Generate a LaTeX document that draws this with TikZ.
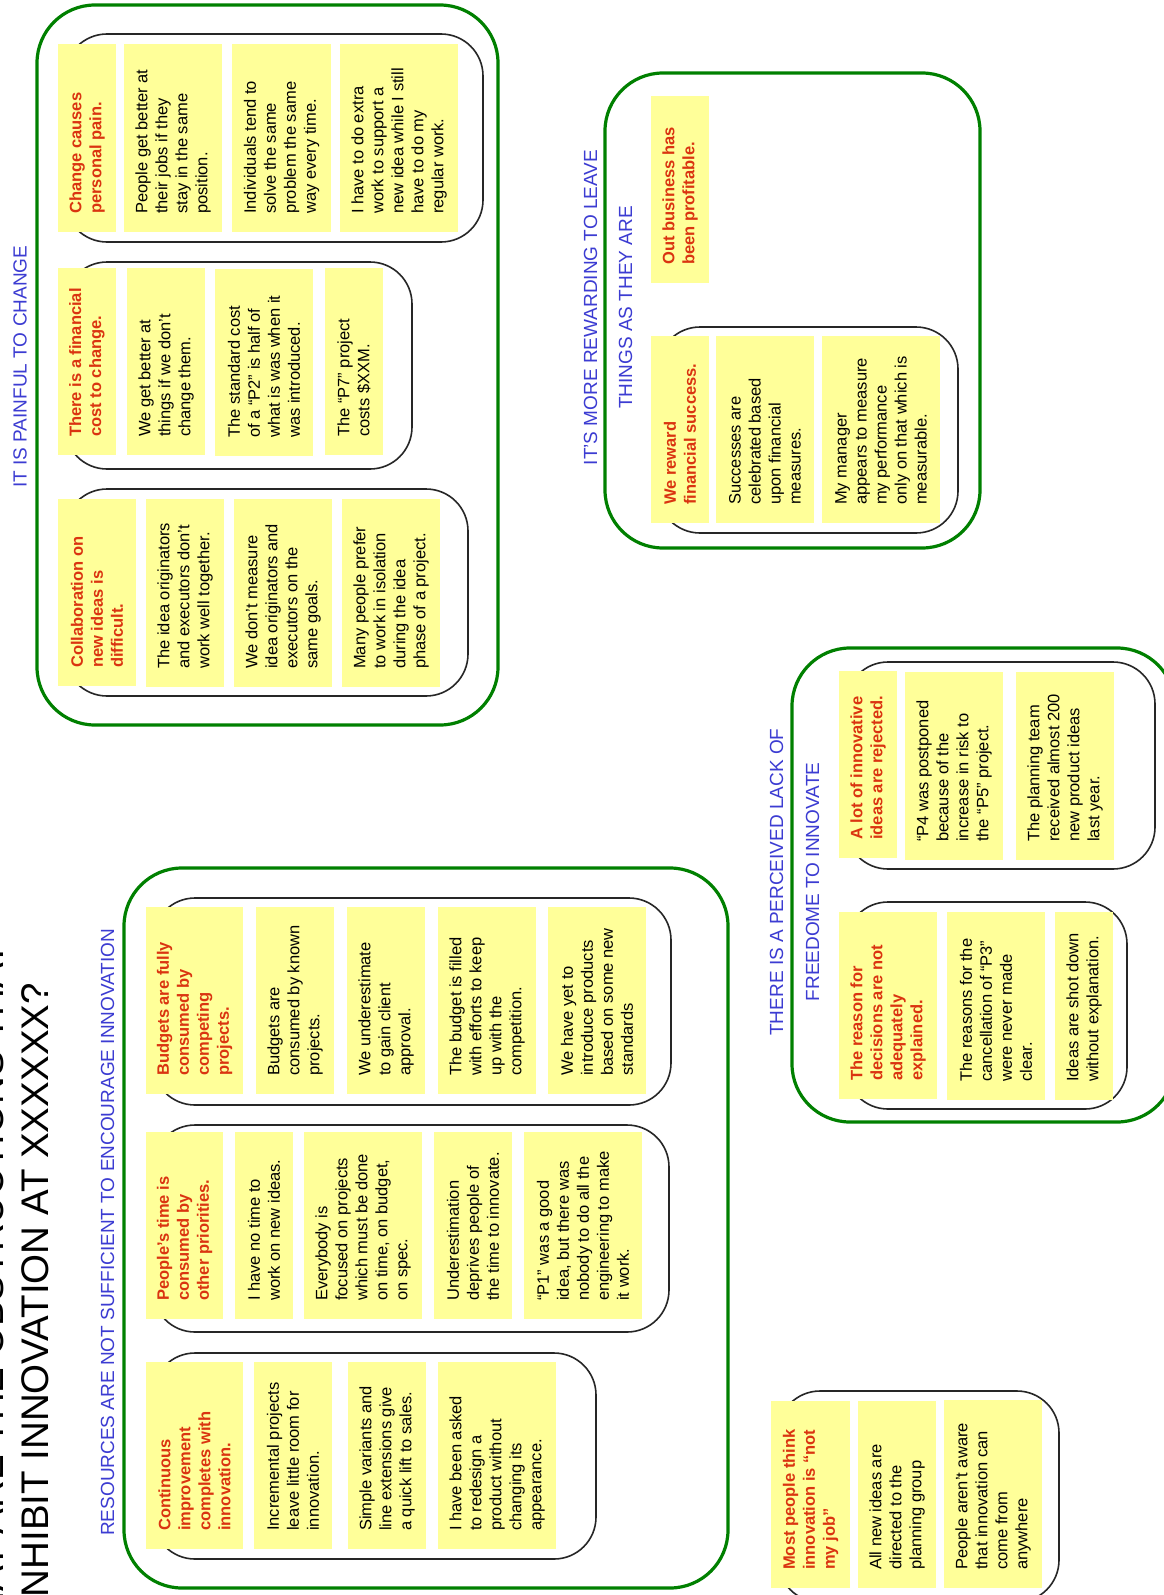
\documentclass[tikz,border=0pt]{standalone}
\usepackage{fontspec}
\setmainfont{Liberation Sans}
\definecolor{notefill}{RGB}{255,255,153}
\definecolor{notered}{RGB}{218,52,16}
\definecolor{headblue}{RGB}{60,60,210}
\definecolor{groupgreen}{RGB}{0,128,0}

% rectangular frame node from corner coordinates: name, x1, y1, x2, y2, style
\newcommand\grp[6]{%
  \pgfmathsetmacro\gW{#4-#2}\pgfmathsetmacro\gH{#5-#3}%
  \pgfmathsetmacro\gX{(#2+#4)/2}\pgfmathsetmacro\gY{(#3+#5)/2}%
  \node[#6, minimum width=\gW pt, minimum height=\gH pt] (#1) at (\gX,\gY) {};}

% sticky note: name, x1, y1, x2, y2, text style, text
\newcommand\stick[7]{%
  \pgfmathsetmacro\nbW{#4-#2}\pgfmathsetmacro\nbH{#5-#3}%
  \pgfmathsetmacro\nbX{(#2+#4)/2}\pgfmathsetmacro\nbY{(#3+#5)/2}%
  \node[notebg, minimum width=\nbW pt, minimum height=\nbH pt] (#1) at (\nbX,\nbY) {};
  \node[#6] (#1t) at ([yshift=18pt]#1.south) {#7};}

\begin{document}
\begin{tikzpicture}[x=1pt,y=-1pt,
  groupbox/.style={rectangle, draw=groupgreen, line width=3.2pt, rounded corners=58pt, inner sep=0pt, outer sep=0pt},
  innerbox/.style={rectangle, draw=black!85, line width=1.6pt, rounded corners=42pt, inner sep=0pt, outer sep=0pt},
  notebg/.style={rectangle, fill=notefill, draw=none, inner sep=0pt, outer sep=0pt},
  obsnote/.style={rotate=90, anchor=west, align=left, inner sep=0pt, font=\fontsize{16.5}{20}\selectfont},
  causenote/.style={obsnote, text=notered, font=\fontsize{16.5}{20}\selectfont\bfseries},
  heading/.style={rotate=90, inner sep=0pt, text=headblue, font=\fontsize{19}{23}\selectfont},
  titletext/.style={rotate=90, inner sep=0pt, font=\fontsize{38.5}{46}\selectfont},
]
\useasboundingbox (0,0) rectangle (1164,1595);
\clip (0,0) rectangle (1164,1595);
\fill[white] (0,0) rectangle (1164,1595);

% title
\node[titletext, anchor=base] (title1) at (4,1299) {WHAT ARE THE OBSTRUCTIONS THAT};
\node[titletext, anchor=base east] (title2) at (48,983) {INHIBIT INNOVATION AT XXXXXX?};

% group frames
\grp{g1}{37}{5}{498}{725}{groupbox}
\grp{g2}{605}{73}{980}{548}{groupbox}
\grp{g3}{124}{868}{728}{1588}{groupbox}
\grp{g4}{792}{648}{1175}{1122}{groupbox}

% headings
\node[heading, anchor=base west] (h1) at (26.5,488) {IT IS PAINFUL TO CHANGE};
\node[heading, anchor=base] (h2a) at (597,307.5) {IT’S MORE REWARDING TO LEAVE};
\node[heading, anchor=base] (h2b) at (632,307.5) {THINGS AS THEY ARE};
\node[heading, anchor=base west] (h3) at (114,1536) {RESOURCES ARE NOT SUFFICIENT TO ENCOURAGE INNOVATION};
\node[heading, anchor=base] (h4a) at (783,882) {THERE IS A PERCEIVED LACK OF};
\node[heading, anchor=base] (h4b) at (819,882) {FREEDOME TO INNOVATE};

% inner frames
\grp{b1}{65}{34}{483}{242}{innerbox}
\grp{b2}{65}{262}{412}{469}{innerbox}
\grp{b3}{65}{489}{468}{696}{innerbox}
\grp{b5}{658}{327}{958}{533}{innerbox}
\grp{bA}{153}{898}{671}{1105}{innerbox}
\grp{bB}{153}{1125}{669}{1332}{innerbox}
\grp{bC}{153}{1353}{596}{1559}{innerbox}
\grp{bE}{846}{662}{1155}{869}{innerbox}
\grp{bF}{846}{902}{1127}{1109}{innerbox}
\grp{bG}{778}{1391}{1059}{1602}{innerbox}

% it is painful to change
\stick{n11}{58}{44}{116}{232}{causenote}{Change causes\\personal pain.}
\stick{n12}{124}{44}{222}{232}{obsnote}{People get better at\\their jobs if they\\stay in the same\\position.}
\stick{n13}{232}{44}{331}{232}{obsnote}{Individuals tend to\\solve the same\\problem the same\\way every time.}
\stick{n14}{340}{44}{458}{232}{obsnote}{I have to do extra\\work to support a\\new idea while I still\\have to do my\\regular work.}

\stick{n21}{58}{268}{116}{455}{causenote}{There is a financial\\cost to change.}
\stick{n22}{127}{268}{205}{455}{obsnote}{We get better at\\things if we don’t\\change them.}
\stick{n23}{215}{269}{313}{456}{obsnote}{The standard cost\\of a “P2” is half of\\what is was when it\\was introduced.}
\stick{n24}{325}{268}{383}{455}{obsnote}{The “P7” project\\costs \$XXM.}

\stick{n31}{58}{499}{136}{686}{causenote}{Collaboration on\\new ideas is\\difficult.}
\stick{n32}{146}{499}{224}{687}{obsnote}{The idea originators\\and executors don’t\\work well together.}
\stick{n33}{234}{499}{332}{687}{obsnote}{We don’t measure\\idea originators and\\executors on the\\same goals.}
\stick{n34}{342}{499}{440}{687}{obsnote}{Many people prefer\\to work in isolation\\during the idea\\phase of a project.}

% more rewarding to leave things as they are
\stick{n41}{651}{96}{709}{283}{causenote}{Out business has\\been profitable.}
\stick{n51}{651}{336}{709}{523}{causenote}{We reward\\financial success.}
\stick{n52}{716}{336}{814}{523}{obsnote}{Successes are\\celebrated based\\upon financial\\measures.}
\stick{n53}{822}{336}{940}{523}{obsnote}{My manager\\appears to measure\\my performance\\only on that which is\\measurable.}

% resources are not sufficient
\stick{a1}{146}{907}{243}{1094}{causenote}{Budgets are fully\\consumed by\\competing\\projects.}
\stick{a2}{256}{907}{334}{1094}{obsnote}{Budgets are\\consumed by known\\projects.}
\stick{a3}{347}{907}{425}{1094}{obsnote}{We underestimate\\to gain client\\approval.}
\stick{a4}{438}{907}{536}{1094}{obsnote}{The budget is filled\\with efforts to keep\\up with the\\competition.}
\stick{a5}{548}{907}{646}{1094}{obsnote}{We have yet to\\introduce products\\based on some new\\standards}

\stick{c1}{146}{1132}{223}{1319}{causenote}{People’s time is\\consumed by\\other priorities.}
\stick{c2}{235}{1132}{293}{1319}{obsnote}{I have no time to\\work on new ideas.}
\stick{c3}{304}{1132}{422}{1319}{obsnote}{Everybody is\\focused on projects\\which must be done\\on time, on budget,\\on spec.}
\stick{c4}{434}{1132}{512}{1319}{obsnote}{Underestimation\\deprives people of\\the time to innovate.}
\stick{c5}{524}{1132}{642}{1319}{obsnote}{“P1” was a good\\idea, but there was\\nobody to do all the\\engineering to make\\it work.}

\stick{d1}{146}{1362}{243}{1549}{causenote}{Continuous\\improvement\\completes with\\innovation.}
\stick{d2}{254}{1362}{332}{1549}{obsnote}{Incremental projects\\leave little room for\\innovation.}
\stick{d3}{348}{1362}{426}{1549}{obsnote}{Simple variants and\\line extensions give\\a quick lift to sales.}
\stick{d4}{438}{1362}{556}{1549}{obsnote}{I have been asked\\to redesign a\\product without\\changing its\\appearance.}

% lack of freedom to innovate
\stick{e1}{839}{671}{897}{858}{causenote}{A lot of innovative\\ideas are rejected.}
\stick{e2}{905}{672}{1003}{860}{obsnote}{“P4 was postponed\\because of the\\increase in risk to\\the “P5” project.}
\stick{e3}{1016}{672}{1114}{860}{obsnote}{The planning team\\received almost 200\\new product ideas\\last year.}

\stick{f1}{839}{912}{937}{1099}{causenote}{The reason for\\decisions are not\\adequately\\explained.}
\stick{f2}{947}{912}{1045}{1100}{obsnote}{The reasons for the\\cancellation of “P3”\\were never made\\clear.}
\stick{f3}{1055}{912}{1113}{1100}{obsnote}{Ideas are shot down\\without explanation.}

% not my job
\stick{k1}{771}{1401}{850}{1588}{causenote}{Most people think\\innovation is “not\\my job”}
\stick{k2}{858}{1401}{936}{1588}{obsnote}{All new ideas are\\directed to the\\planning group}
\stick{k3}{944}{1400}{1042}{1588}{obsnote}{People aren’t aware\\that innovation can\\come from\\anywhere}
\end{tikzpicture}
\end{document}
